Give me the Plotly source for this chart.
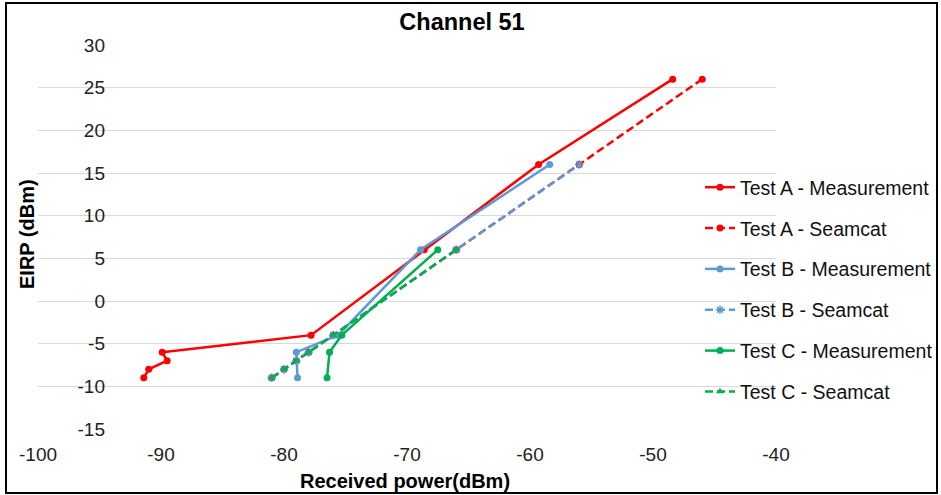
import plotly.graph_objects as go

# ---- data ----
eirp_a_meas = [-9, -8, -7, -6, -4, 6, 16, 26]
rx_a_meas = [-91.4, -91.0, -89.5, -89.9, -77.8, -68.6, -59.3, -48.4]

eirp_a_seam = [-9, -8, -7, -6, -4, 6, 16, 26]
rx_a_seam = [-81, -80, -79, -78, -76, -66, -56, -46]

eirp_b_meas = [-9, -6, -4, 6, 16]
rx_b_meas = [-78.9, -79.0, -75.6, -68.9, -58.4]

eirp_b_seam = [-9, -8, -7, -6, -4, 6, 16]
rx_b_seam = [-81, -80, -79, -78, -76, -66, -56]

eirp_c_meas = [-9, -6, -4, 6]
rx_c_meas = [-76.5, -76.3, -75.3, -67.5]

eirp_c_seam = [-9, -8, -7, -6, -4, 6]
rx_c_seam = [-81, -80, -79, -78, -76, -66]

x_ticks = [-100, -90, -80, -70, -60, -50, -40]
x_tick_labels = ["-100", "-90", "-80", "-70", "-60", "-50", "-40"]
y_ticks = [-15, -10, -5, 0, 5, 10, 15, 20, 25, 30]
y_tick_labels = ["-15", "-10", "-5", "0", "5", "10", "15", "20", "25", "30"]

RED = "#FF0000"
BLUE = "#5B9BD5"
GREEN = "#00B050"
FONT = "Liberation Sans, Arial, sans-serif"

fig = go.Figure()

def add(x, y, name, color, dash, symbol, grp):
    mk = dict(symbol=symbol, size=7, color=color)
    if symbol == "asterisk-open":
        mk = dict(symbol=symbol, size=7, color=color, line=dict(color=color, width=1.5))
    fig.add_trace(go.Scatter(
        x=x, y=y, name=name, mode="lines+markers",
        line=dict(color=color, width=2.5, dash=dash),
        marker=mk, legendgroup=grp,
    ))

add(rx_a_meas, eirp_a_meas, "Test A - Measurement", RED, "solid", "circle", "g1")
add(rx_a_seam, eirp_a_seam, "Test A - Seamcat", RED, "8px,4px", "circle", "g2")
add(rx_b_meas, eirp_b_meas, "Test B - Measurement", BLUE, "solid", "circle", "g3")
add(rx_b_seam, eirp_b_seam, "Test B - Seamcat", BLUE, "8px,4px", "asterisk-open", "g4")
add(rx_c_meas, eirp_c_meas, "Test C - Measurement", GREEN, "solid", "circle", "g5")
add(rx_c_seam, eirp_c_seam, "Test C - Seamcat", GREEN, "8px,4px", "triangle-up", "g6")

L, R, T, B = 38, 165, 45, 66
W, H = 941, 495
pw = W - L - R
ph = H - T - B

def px2x(px):
    return (px - L) / pw

def py2y(py):
    return (H - B - py) / ph

fig.update_layout(
    width=W, height=H,
    margin=dict(l=L, r=R, t=T, b=B, autoexpand=False),
    paper_bgcolor="white", plot_bgcolor="white",
    font=dict(family=FONT, size=19, color="#222222"),
    title=dict(text="<b>Channel 51</b>", x=462 / W, xanchor="center",
               y=1 - 22 / H, yanchor="middle", yref="container",
               font=dict(family=FONT, size=23.5, color="#000000")),
    xaxis=dict(range=[-100, -40], tickvals=x_ticks, ticktext=x_tick_labels,
               showgrid=False, zeroline=False, showline=False, ticks="",
               ticklabelstandoff=12, automargin=False,
               tickfont=dict(family=FONT, size=19, color="#222222")),
    yaxis=dict(range=[-15, 30], tickvals=y_ticks, ticktext=y_tick_labels,
               showgrid=True, gridcolor="#D9D9D9", gridwidth=1, zeroline=False,
               showline=False, ticks="", anchor="free", automargin=False,
               position=px2x(105),
               tickfont=dict(family=FONT, size=19, color="#222222")),
    legend=dict(x=px2x(700), y=py2y(168), xanchor="left", yanchor="top",
                bgcolor="rgba(0,0,0,0)", traceorder="grouped", tracegroupgap=12.5,
                font=dict(family=FONT, size=19.5, color="#111111"),
                itemwidth=30),
    showlegend=True,
)

# white legend area hiding the gridlines behind the legend
fig.add_shape(type="rect", xref="paper", yref="paper",
              x0=px2x(680), x1=px2x(790), y0=py2y(410), y1=py2y(165),
              line=dict(width=0), fillcolor="white", layer="between")

fig.add_annotation(text="<b>Received power(dBm)</b>", xref="paper", yref="paper",
                   x=px2x(405), y=py2y(481), xanchor="center", yanchor="middle",
                   showarrow=False, font=dict(family=FONT, size=20, color="#000000"))
fig.add_annotation(text="<b>EIRP (dBm)</b>", xref="paper", yref="paper",
                   x=px2x(27), y=py2y(234), xanchor="center", yanchor="middle",
                   textangle=-90, showarrow=False,
                   font=dict(family=FONT, size=20, color="#000000"))

# outer frame
fig.add_shape(type="rect", xref="paper", yref="paper",
              x0=px2x(6), x1=px2x(937), y0=py2y(493), y1=py2y(3),
              line=dict(color="black", width=2), fillcolor="rgba(0,0,0,0)",
              layer="above")

fig.write_html("out.html", config={"displayModeBar": False},
               post_script="document.body.style.margin='0';document.body.style.overflow='hidden';")
